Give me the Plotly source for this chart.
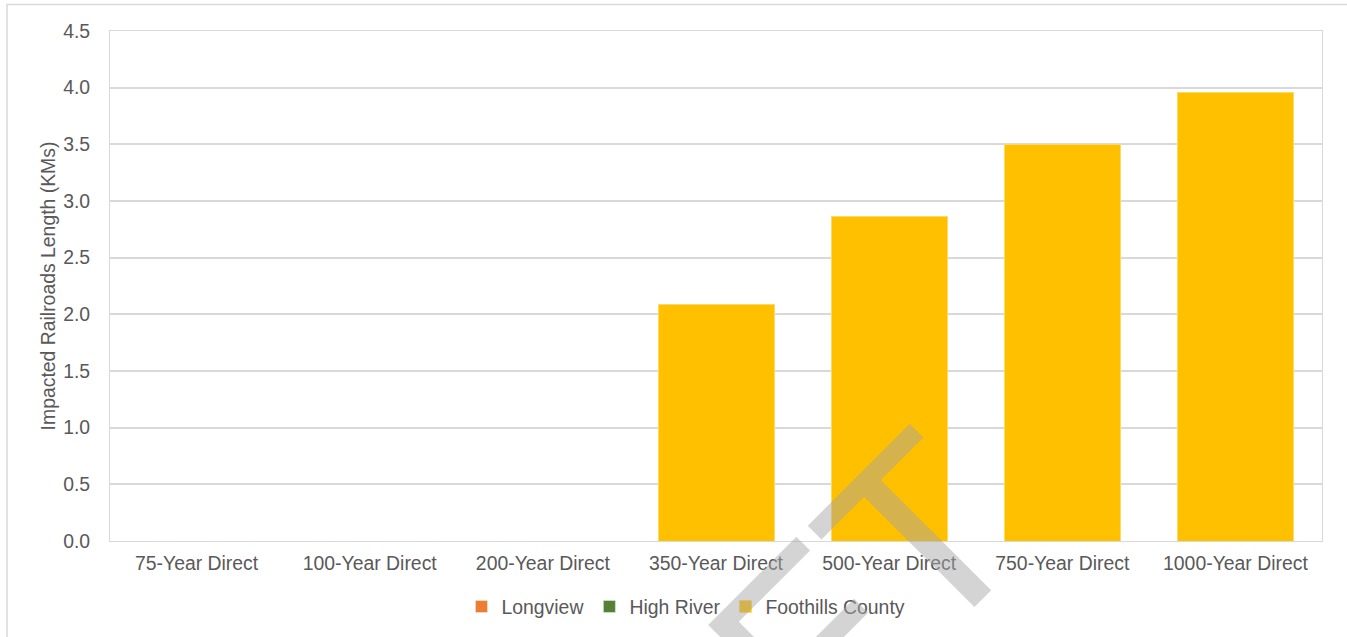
import plotly.graph_objects as go

# Return periods (x categories) and impacted railroad length per municipality, in km
categories = ["75-Year Direct", "100-Year Direct", "200-Year Direct", "350-Year Direct",
              "500-Year Direct", "750-Year Direct", "1000-Year Direct"]
longview = [0, 0, 0, 0, 0, 0, 0]
high_river = [0, 0, 0, 0, 0, 0, 0]
foothills_county = [0, 0, 0, 2.09, 2.86, 3.50, 3.96]

y_ticks = [0.0, 0.5, 1.0, 1.5, 2.0, 2.5, 3.0, 3.5, 4.0, 4.5]

FONT = "Liberation Sans, Arial, sans-serif"
TEXT = "#595959"
GRID = "#d9d9d9"
FS = 19.4

fig = go.Figure()
fig.add_trace(go.Bar(name="Longview", x=categories, y=longview,
                     marker=dict(color="#ED7D31")))
fig.add_trace(go.Bar(name="High River", x=categories, y=high_river,
                     marker=dict(color="#548235")))
fig.add_trace(go.Bar(name="Foothills County", x=categories, y=foothills_county,
                     marker=dict(color="#FFC000", line=dict(color="#FFD966", width=1))))

fig.update_layout(
    width=1347, height=637,
    margin=dict(l=110, r=25, t=31, b=95),
    barmode="stack", bargap=0.33,
    paper_bgcolor="white", plot_bgcolor="white",
    font=dict(family=FONT, size=FS, color=TEXT),
    showlegend=True,
    legend=dict(orientation="h", x=0.29, xanchor="left", y=-0.127, yanchor="middle",
                font=dict(family=FONT, size=FS, color=TEXT),
                traceorder="normal", itemwidth=30, bgcolor="rgba(0,0,0,0)"),
    xaxis=dict(showgrid=False, showline=True, mirror=True, linecolor=GRID, linewidth=1,
               ticks="", ticklabelstandoff=5, tickfont=dict(size=FS, color=TEXT)),
    yaxis=dict(range=[0, 4.5], tickvals=y_ticks, tickformat=".1f",
               showgrid=True, gridcolor=GRID, gridwidth=1.5,
               showline=True, mirror=True, linecolor=GRID, linewidth=1,
               zeroline=False, ticks="", ticklabelstandoff=15,
               tickfont=dict(size=FS, color=TEXT),
               title=dict(text="Impacted Railroads Length (KMs)", standoff=2,
                          font=dict(size=FS, color=TEXT))),
    shapes=[dict(type="rect", xref="paper", yref="paper",
                 x0=-0.085, x1=1.05, y0=-0.4, y1=1.0518,
                 line=dict(color=GRID, width=1.5), fillcolor="rgba(0,0,0,0)",
                 layer="below")],
    annotations=[dict(text="DRAFT", xref="paper", yref="paper", x=0.466, y=-0.472,
                      xanchor="center", yanchor="middle", showarrow=False, textangle=-45,
                      font=dict(family=FONT, size=255, color="rgba(165,165,165,0.48)"))],
)

fig.write_html("out.html")
